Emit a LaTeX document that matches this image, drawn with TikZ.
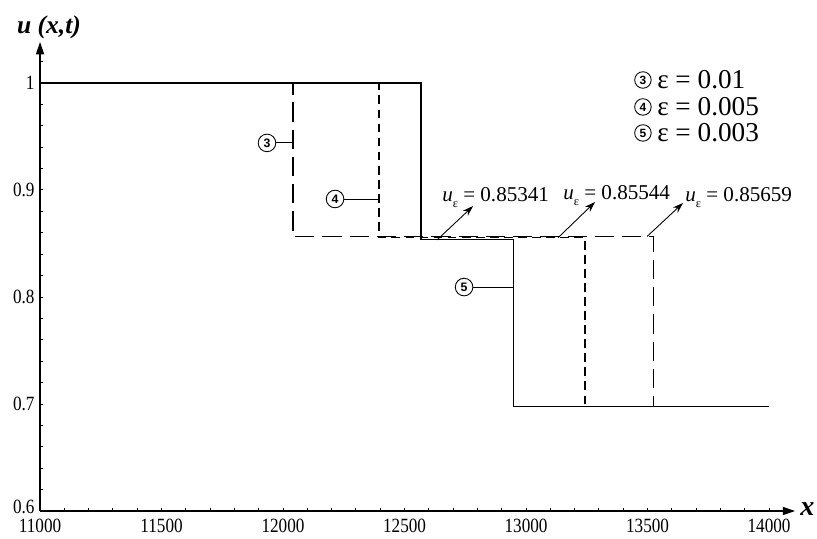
\documentclass[tikz,border=0pt]{standalone}
\usepackage{fontspec}
\setmainfont{Liberation Serif}
\setsansfont{Liberation Sans}
\newfontfamily\tickfont{Liberation Serif}[FakeStretch=0.85]
\usepackage{tikz}
\usetikzlibrary{arrows.meta, positioning}

\newcommand{\ueps}{\textit{u}\raisebox{-0.55ex}{\fontsize{7}{7}\selectfont ε}}

\begin{document}
\begin{tikzpicture}[x=4.86cm, y=21.4cm,
  axis/.style={line width=0.75pt, -{Triangle[length=7pt,width=4.6pt]}},
  sol/.style={line width=0.7pt},
  epsa/.style={line width=0.7pt, dash pattern=on 11pt off 4.5pt},
  epsb/.style={line width=0.7pt, dash pattern=on 5pt off 3pt},
  num/.style={circle, draw, line width=0.5pt, inner sep=0pt, minimum size=10pt,
    font=\sffamily\bfseries\fontsize{7}{7}\selectfont},
  key/.style={num, minimum size=9.4pt, font=\sffamily\bfseries\fontsize{6.8}{6.8}\selectfont},
  leader/.style={line width=0.5pt},
  pointer/.style={line width=0.5pt, -{Stealth[length=6pt,width=4pt]}},
  tick/.style={font=\tickfont\fontsize{11.5}{11.5}\selectfont, inner sep=0pt}]
\useasboundingbox (10.8354,0.57477) rectangle (14.1975,1.07757);

% axes
\coordinate (O) at (11,0.6);
\coordinate (xend) at (14.107,0.6);
\coordinate (yend) at (11,1.0383);
\draw[axis] (O) -- (xend);
\draw[axis] (O) -- (yend);
\node[font=\bfseries\itshape\fontsize{14.5}{14.5}\selectfont, inner sep=0pt] (ylab) at (11.037,1.0523) {u (x,t)};
\node[font=\bfseries\itshape\fontsize{16}{16}\selectfont, inner sep=0pt] (xlab) at (14.158,0.6015) {x};

% ticks
\foreach \v in {0.62,0.64,...,1.03}
  \draw[line width=0.5pt] (11,\v) -- ++(0.06cm,0);
\foreach \v in {0.7,0.8,0.9}
  \node[tick, anchor=east] at (10.979,\v) {\v};
\node[tick, anchor=east] at (10.979,1) {1};
\node[tick, anchor=east] at (10.979,0.6035) {0.6};
\foreach \u in {11.1,11.2,...,14.05}
  \draw[line width=0.5pt] (\u,0.6) -- ++(0,0.06cm);
\foreach \u/\t in {11/11000,11.5/11500,12/12000,12.5/12500,13/13000,13.5/13500,14/14000}
  \node[tick, anchor=north] at (\u,0.5925) {\t};

% eps = 0.01
\draw[epsa] (11,1) -- (12.041,1) -- (12.041,0.85659) -- (13.523,0.85659)
  -- (13.523,0.698) -- (14,0.698);
% eps = 0.005
\draw[epsb] (11,1) -- (12.395,1) -- (12.395,0.85544) -- (13.243,0.85544)
  -- (13.243,0.698) -- (14,0.698);
% eps = 0.003
\draw[sol] (11,1) -- (12.568,1) -- (12.568,0.85341) -- (12.947,0.85341)
  -- (12.947,0.698) -- (14,0.698);

% curve labels
\foreach \i/\x/\y/\c in {3/11.934/0.944/12.041, 4/12.214/0.8916/12.395, 5/12.745/0.8093/12.947} {
  \node[num] (n\i) at (\x,\y) {\i};
  \coordinate (l\i) at (\c,\y);
  \draw[leader] (n\i) -- (l\i);
}

% values of u_eps
\foreach \i/\xa/\ya/\xb/\yb/\xt/\yt/\val in {
    5/12.634/0.85341/12.782/0.8850/12.654/0.8888/0.85341,
    4/13.132/0.85544/13.284/0.8888/13.152/0.8907/0.85544,
    3/13.498/0.85659/13.646/0.8879/13.654/0.8888/0.85659} {
  \coordinate (a\i) at (\xa,\ya);
  \coordinate (p\i) at (\xb,\yb);
  \draw[pointer] (a\i) -- (p\i);
  \node[anchor=base west, inner sep=0pt, font=\fontsize{12}{12}\selectfont] (v\i) at (\xt,\yt) {\ueps{} = \val};
}

% legend
\foreach \i/\y/\e in {3/1.0028/0.01, 4/0.9776/0.005, 5/0.9533/0.003} {
  \node[key] (k\i) at (13.481,\y) {\i};
  \node[right=3pt of k\i, inner sep=0pt, font=\fontsize{15.5}{15.5}\selectfont] (e\i) {ε = \e};
}
\end{tikzpicture}
\end{document}
